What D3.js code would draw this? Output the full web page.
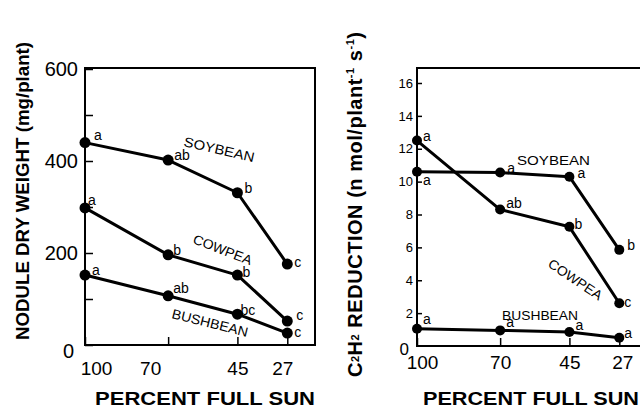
<!DOCTYPE html>
<html>
<head>
<meta charset="utf-8">
<script src="https://cdn.jsdelivr.net/npm/d3@7"></script>
<style>
  html, body { margin: 0; padding: 0; background: #fff; }
  svg { display: block; }
  text { fill: #000; font-family: "Liberation Sans", Arial, Helvetica, sans-serif; }
</style>
</head>
<body>
<svg id="chart" width="640" height="408"></svg>
<script>
// ---------- DATA ----------
const sunPercent = [100, 70, 45, 27];
const xTickLabels = ["100", "70", "45", "27"];

// Left panel: nodule dry weight (mg/plant)
const noduleSoybean  = [440, 402, 331, 176];
const noduleCowpea   = [298, 196, 152, 52];
const noduleBushbean = [152, 107, 67, 26];
const noduleSoybeanSig  = ["a", "ab", "b", "c"];
const noduleCowpeaSig   = ["a", "b", "b", "c"];
const noduleBushbeanSig = ["a", "ab", "bc", "c"];
const noduleTicks = [0, 100, 200, 300, 400, 500, 600];
const noduleTickLabels = ["0", "200", "400", "600"];

// Right panel: C2H2 reduction (n mol/plant-1 s-1)
const c2h2Soybean  = [10.6, 10.55, 10.3, 5.85];
const c2h2Cowpea   = [12.5, 8.3, 7.25, 2.6];
const c2h2Bushbean = [1.05, 0.95, 0.85, 0.5];
const c2h2SoybeanSig  = ["a", "a", "a", "b"];
const c2h2CowpeaSig   = ["a", "ab", "b", "c"];
const c2h2BushbeanSig = ["a", "a", "a", "a"];
const c2h2Ticks = [2, 4, 6, 8, 10, 12, 14, 16];
const c2h2TickLabels = ["2", "4", "6", "8", "10", "12", "14", "16"];

const seriesNames = ["SOYBEAN", "COWPEA", "BUSHBEAN"];
const xTitle = "PERCENT FULL SUN";
const leftYTitle = "NODULE DRY WEIGHT (mg/plant)";

// ---------- LAYOUT ----------
const svg = d3.select("#chart");
const FONT = '"Liberation Sans", Arial, Helvetica, sans-serif';
const NARROW = '"Liberation Sans Narrow", "DejaVu Sans Condensed", "Liberation Sans", sans-serif';

const xL = d3.scaleLinear().domain([100, 17]).range([85, 315]);
const yL = d3.scaleLinear().domain([0, 600]).range([345, 69]);
const xR = d3.scaleLinear().domain([100, 17]).range([417, 647]);
const yR = d3.scaleLinear().domain([0, 16]).range([346, 83]);

// label offsets for significance letters [dx, dy] (layout only)
const offL = [
  [[9,-3],[6,0],[7,0],[7,3]],
  [[3,-3],[5,0],[5,2],[9,-1]],
  [[7,0],[5,-3],[3,1],[7,4]]
];
const offR = [
  [[6,13],[7,0],[8,1],[8,0]],
  [[6,0],[6,-2],[5,2],[5,4]],
  [[6,-5],[6,-3],[6,-2],[5,0]]
];

function drawPanel(g, x, y, series, sigs, offs, r) {
  const line = d3.line().x((d, i) => x(sunPercent[i])).y(d => y(d));
  series.forEach((vals, si) => {
    g.append("path").datum(vals).attr("d", line)
      .attr("fill", "none").attr("stroke", "#000").attr("stroke-width", 3)
      .attr("stroke-linejoin", "round");
    g.selectAll(null).data(vals).join("circle")
      .attr("cx", (d, i) => x(sunPercent[i])).attr("cy", d => y(d))
      .attr("r", r).attr("fill", "#000");
    g.selectAll(null).data(vals).join("text")
      .attr("x", (d, i) => x(sunPercent[i]) + offs[si][i][0])
      .attr("y", (d, i) => y(d) + offs[si][i][1])
      .attr("font-size", 14)
      .text((d, i) => sigs[si][i]);
  });
}

// ===== LEFT PANEL =====
const gl = svg.append("g");
gl.append("rect").attr("x", 85).attr("y", 68).attr("width", 230).attr("height", 277)
  .attr("fill", "none").attr("stroke", "#000").attr("stroke-width", 2);

const yAxisL = d3.axisLeft(yL).tickValues(noduleTicks).tickSize(-8).tickSizeOuter(0).tickPadding(7)
  .tickFormat(d => noduleTickLabels.includes(String(d)) ? String(d) : "");
const gyl = gl.append("g").attr("transform", "translate(85,0)").call(yAxisL);
gyl.select(".domain").remove();
gyl.selectAll(".tick line").attr("stroke", "#000").attr("stroke-width", 1.5);
gyl.selectAll(".tick text").attr("font-family", FONT).attr("font-size", 20).attr("fill", "#000");
gyl.selectAll(".tick").filter(d => d === 0).select("text").attr("dx", -4).attr("dy", "0.6em");

const xAxisL = d3.axisBottom(xL).tickValues(sunPercent).tickSize(-8).tickSizeOuter(0).tickPadding(17)
  .tickFormat((d, i) => xTickLabels[i]);
const gxl = gl.append("g").attr("transform", "translate(0,345)").call(xAxisL);
gxl.select(".domain").remove();
gxl.selectAll(".tick line").attr("stroke", "#000").attr("stroke-width", 1.5);
const dxL = [11, -18, 0, -5];
gxl.selectAll(".tick text").attr("font-family", NARROW).attr("font-size", 19).attr("fill", "#000")
  .attr("dx", (d, i) => dxL[i]);

drawPanel(gl, xL, yL, [noduleSoybean, noduleCowpea, noduleBushbean],
  [noduleSoybeanSig, noduleCowpeaSig, noduleBushbeanSig], offL, 5.5);

function seriesLabel(g, txt, x, y, angle, len) {
  g.append("text").attr("transform", `translate(${x},${y}) rotate(${angle})`)
    .attr("font-size", 13.5).attr("textLength", len).attr("lengthAdjust", "spacingAndGlyphs")
    .text(txt);
}
seriesLabel(gl, seriesNames[0], 183, 146, 13, 72);
seriesLabel(gl, seriesNames[1], 192, 243, 21, 62);
seriesLabel(gl, seriesNames[2], 171, 318, 14, 78);

gl.append("text").attr("x", 95).attr("y", 405).attr("font-size", 18).attr("font-weight", "bold")
  .attr("textLength", 220).attr("lengthAdjust", "spacingAndGlyphs").text(xTitle);
gl.append("text").attr("transform", "translate(29,191) rotate(-90)").attr("text-anchor", "middle")
  .attr("font-size", 19).attr("font-weight", "bold")
  .attr("textLength", 298).attr("lengthAdjust", "spacingAndGlyphs").text(leftYTitle);

// ===== RIGHT PANEL =====
const gr = svg.append("g");
gr.append("path").attr("d", "M 650 68 H 417 V 346 H 650")
  .attr("fill", "none").attr("stroke", "#000").attr("stroke-width", 2);

const yAxisR = d3.axisLeft(yR).tickValues(c2h2Ticks).tickSize(-5).tickSizeOuter(0).tickPadding(4)
  .tickFormat((d, i) => c2h2TickLabels[i]);
const gyr = gr.append("g").attr("transform", "translate(417,0)").call(yAxisR);
gyr.select(".domain").remove();
gyr.selectAll(".tick line").attr("stroke", "#000").attr("stroke-width", 1.5);
gyr.selectAll(".tick text").attr("font-family", FONT).attr("font-size", 13).attr("fill", "#000");
gr.append("text").attr("x", 409).attr("y", 355).attr("text-anchor", "end")
  .attr("font-size", 17).text("0");

const xAxisR = d3.axisBottom(xR).tickValues(sunPercent).tickSize(-8).tickSizeOuter(0).tickPadding(10)
  .tickFormat((d, i) => xTickLabels[i]);
const gxr = gr.append("g").attr("transform", "translate(0,346)").call(xAxisR);
gxr.select(".domain").remove();
gxr.selectAll(".tick line").attr("stroke", "#000").attr("stroke-width", 1.5);
const dxR = [5, 0, 0, 3];
gxr.selectAll(".tick text").attr("font-family", FONT).attr("font-size", 19).attr("fill", "#000")
  .attr("dx", (d, i) => dxR[i]);

drawPanel(gr, xR, yR, [c2h2Soybean, c2h2Cowpea, c2h2Bushbean],
  [c2h2SoybeanSig, c2h2CowpeaSig, c2h2BushbeanSig], offR, 5);

seriesLabel(gr, seriesNames[0], 517, 165, 0, 73);
seriesLabel(gr, seriesNames[1], 547, 266, 34, 62);
seriesLabel(gr, seriesNames[2], 502, 320, 0, 76);

gr.append("text").attr("x", 423).attr("y", 405).attr("font-size", 18).attr("font-weight", "bold")
  .attr("textLength", 216).attr("lengthAdjust", "spacingAndGlyphs").text(xTitle);

const rt = gr.append("text").attr("transform", "translate(362,377) rotate(-90)")
  .attr("font-size", 20).attr("font-weight", "bold")
  .attr("textLength", 345).attr("lengthAdjust", "spacing");
rt.append("tspan").text("C");
rt.append("tspan").attr("font-size", 11).attr("dy", -3).text("2");
rt.append("tspan").attr("dy", 3).text("H");
rt.append("tspan").attr("font-size", 11).attr("dy", -3).text("2");
rt.append("tspan").attr("dy", 3).text(" REDUCTION (n mol/plant");
rt.append("tspan").attr("font-size", 11).attr("dy", -8).text("-1");
rt.append("tspan").attr("dy", 8).text(" s");
rt.append("tspan").attr("font-size", 11).attr("dy", -8).text("-1");
rt.append("tspan").attr("dy", 8).text(")");
</script>
</body>
</html>
